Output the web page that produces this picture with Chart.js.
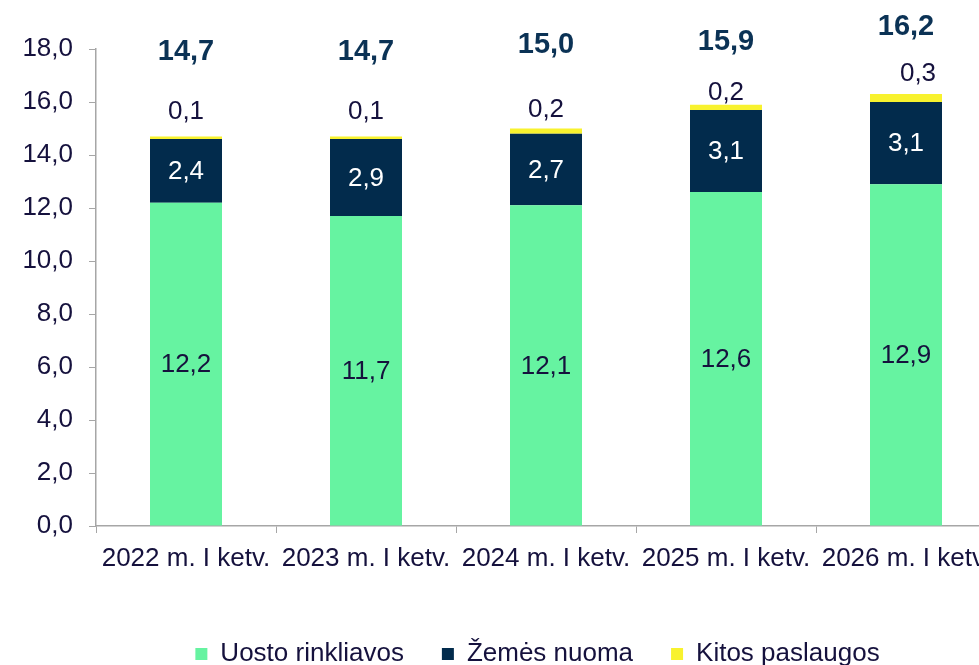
<!DOCTYPE html>
<html>
<head>
<meta charset="utf-8">
<script src="https://cdn.jsdelivr.net/npm/chart.js@4/dist/chart.umd.min.js"></script>
<style>
  html, body { margin: 0; padding: 0; background: #fff; overflow: hidden; }
  #wrap { width: 1075px; height: 665px; }
</style>
</head>
<body>
<div id="wrap"><canvas id="bar-chart" width="1075" height="665"></canvas></div>
<script>
// data
const categories = ["2022 m. I ketv.", "2023 m. I ketv.", "2024 m. I ketv.", "2025 m. I ketv.", "2026 m. I ketv."];
const uosto = [12.2, 11.7, 12.1, 12.6, 12.9];
const zeme = [2.4, 2.9, 2.7, 3.1, 3.1];
const kitos = [0.1, 0.1, 0.2, 0.2, 0.3];
const totals = [14.7, 14.7, 15.0, 15.9, 16.2];

// label placement above the bars (pixels)
const kitosLift = [25, 25, 19, 12, 20];
const kitosShift = [0, 0, 0, 0, 12];
const totalLift = [84, 84, 84, 63, 67];

const FONT = '"Liberation Sans", Arial, sans-serif';
const TXT = '#15113d';
const fmt = v => v.toFixed(1).replace('.', ',');

const stackLabels = {
    id: 'stackLabels',
    afterLayout(chart) {
        // legend centred on the whole canvas, not on the padded area
        const lg = chart.legend;
        lg.left = 0;
        lg.right = chart.width;
        lg.width = chart.width;
    },
    afterDatasetsDraw(chart) {
        const ctx = chart.ctx;
        const m0 = chart.getDatasetMeta(0).data;
        const m1 = chart.getDatasetMeta(1).data;
        const m2 = chart.getDatasetMeta(2).data;
        ctx.save();
        ctx.textAlign = 'center';
        ctx.textBaseline = 'middle';
        for (let i = 0; i < categories.length; i++) {
            ctx.font = '26px ' + FONT;
            ctx.fillStyle = TXT;
            ctx.fillText(fmt(uosto[i]), m0[i].x, (m0[i].y + m0[i].base) / 2 + 1);
            ctx.fillStyle = '#ffffff';
            ctx.fillText(fmt(zeme[i]), m1[i].x, (m1[i].y + m1[i].base) / 2 + 1);
            ctx.fillStyle = TXT;
            ctx.fillText(fmt(kitos[i]), m2[i].x + kitosShift[i], m2[i].y - kitosLift[i]);
            ctx.font = 'bold 29px ' + FONT;
            ctx.fillStyle = '#0b3255';
            ctx.fillText(fmt(totals[i]), m2[i].x, m2[i].y - totalLift[i]);
        }
        ctx.restore();
    }
};

new Chart(document.getElementById("bar-chart"), {
    type: 'bar',
    data: {
        labels: categories,
        datasets: [
            { label: 'Uosto rinkliavos', data: uosto, backgroundColor: '#66f3a1' },
            { label: 'Žemės nuoma', data: zeme, backgroundColor: '#022b4c' },
            { label: 'Kitos paslaugos', data: kitos, backgroundColor: '#f8f22e' }
        ]
    },
    options: {
        responsive: false,
        animation: false,
        barPercentage: 0.4,
        categoryPercentage: 1,
        layout: { padding: { top: 49, left: 0, right: 79, bottom: 0 } },
        plugins: {
            tooltip: { enabled: false },
            legend: {
                position: 'bottom',
                maxHeight: 62,
                labels: {
                    boxWidth: 12,
                    boxHeight: 12,
                    padding: 38,
                    color: TXT,
                    font: { family: FONT, size: 26 }
                }
            }
        },
        scales: {
            x: {
                stacked: true,
                grid: { drawOnChartArea: false, offset: true, tickLength: 7, color: '#a6a6a6' },
                border: { color: '#a6a6a6', width: 1.5 },
                ticks: { color: TXT, font: { family: FONT, size: 26 }, padding: 10, maxRotation: 0, autoSkip: false },
                afterFit: s => { s.height = 77; }
            },
            y: {
                stacked: true,
                min: 0,
                max: 18,
                grid: { drawOnChartArea: false, tickLength: 7, color: '#a6a6a6' },
                border: { color: '#a6a6a6', width: 1.5 },
                ticks: { stepSize: 2, color: TXT, font: { family: FONT, size: 26 }, padding: 16, callback: v => fmt(v) },
                afterFit: s => { s.width = 96; }
            }
        }
    },
    plugins: [stackLabels]
});
</script>
</body>
</html>
